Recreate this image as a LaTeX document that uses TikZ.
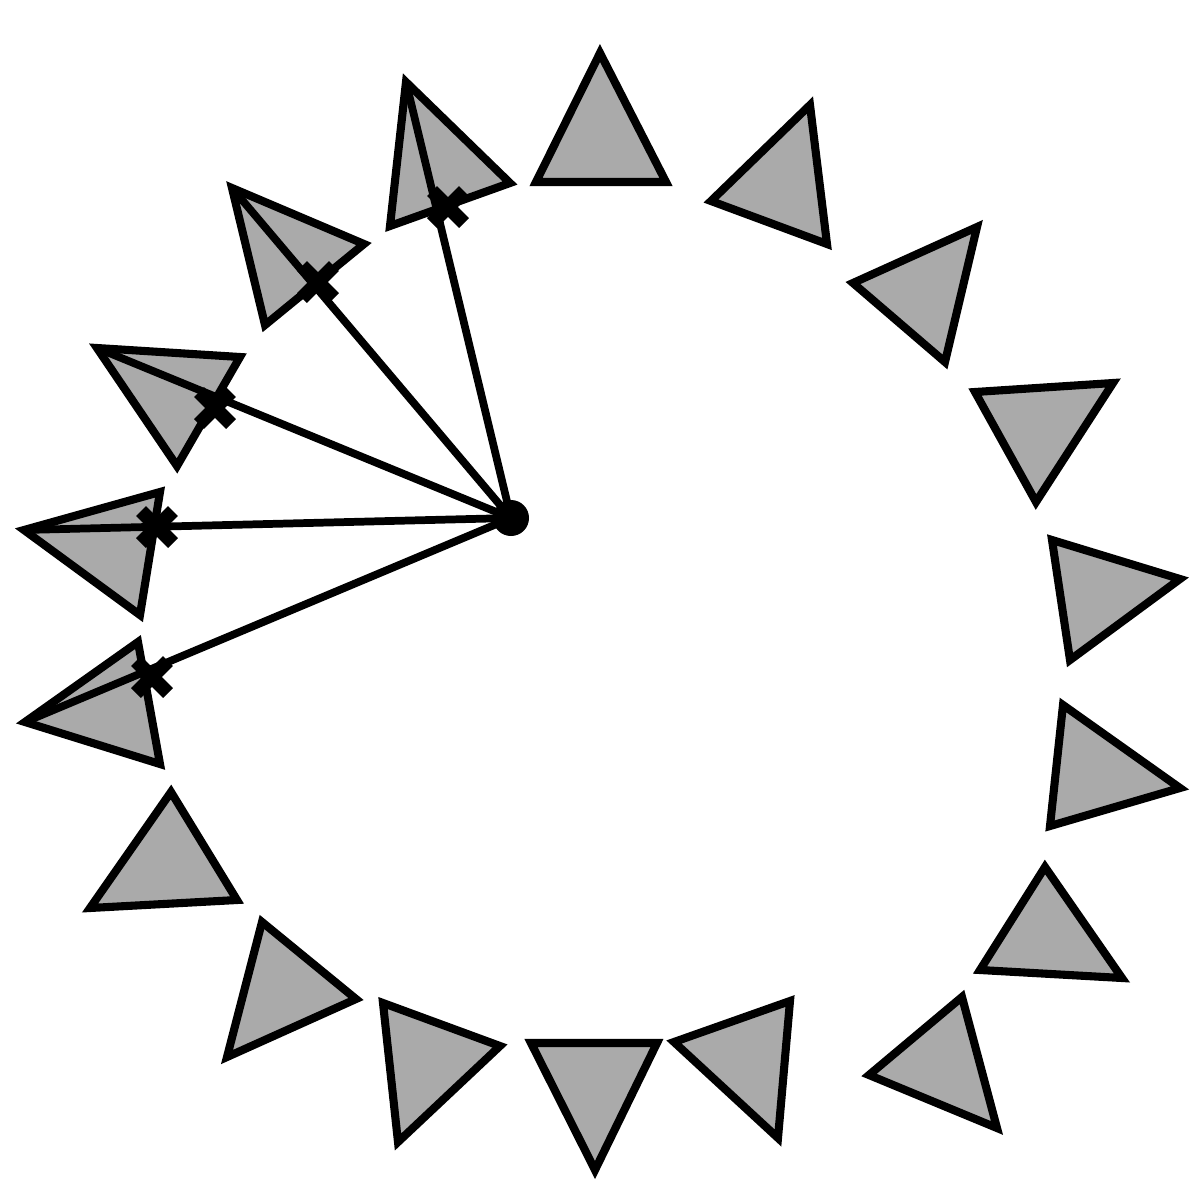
\documentclass[tikz,border=0pt]{standalone}
\usepackage{xcolor}
\usetikzlibrary{calc}
\definecolor{tgray}{RGB}{170,170,170}
\begin{document}
\begin{tikzpicture}[
    x=0.01cm, y=-0.01cm,
    tri/.style={draw, fill=tgray, line width=2.3pt, line join=miter},
    ray/.style={line width=2.2pt},
    cross/.style={line width=4pt},
]
\useasboundingbox (0,0) rectangle (1193,1184);

% Ring of triangles
\foreach \ax/\ay/\bx/\by/\cx/\cy in {
    600/53/536/182/666/182, 810/105/711/201/827/244, 977/227/853/283/945/362,
    975/392/1113/383/1036/502, 1052/540/1180/579/1070/660, 1063/705/1180/788/1050/826,
    1045/867/980/970/1122/978, 962/997/869/1075/997/1128, 674/1042/790/1001/778/1138,
    531/1043/657/1043/595/1170, 383/1003/500/1046/398/1142, 262/922/356/999/227/1057,
    171/792/237/900/90/908}
  \draw[tri] (\ax,\ay) -- (\bx,\by) -- (\cx,\cy) -- cycle;

% Triangles hit by a ray (apex first)
\foreach \n/\ax/\ay/\bx/\by/\cx/\cy in {
    14/25/722/138/642/160/764, 15/24/530/160/492/140/615, 16/97/348/240/357/177/466,
    17/232/188/364/244/265/325, 18/406/82/510/183/390/226}{
  \coordinate (apex\n) at (\ax,\ay);
  \draw[tri] (apex\n) -- (\bx,\by) -- (\cx,\cy) -- cycle;
}

% Centre point
\coordinate (o) at (511,518);

% Rays
\foreach \n in {14,...,18}
  \draw[ray] (o) -- (apex\n);

% Crossing marks
\foreach \n/\mx/\my in {14/152/677, 15/157/527, 16/215/408, 17/318/282, 18/448/207}{
  \coordinate (hit\n) at (\mx,\my);
  \draw[cross] ($(hit\n)+(-16,-16)$) -- ($(hit\n)+(16,16)$)
               ($(hit\n)+(-16,16)$) -- ($(hit\n)+(16,-16)$);
}
\fill (o) circle[radius=0.18cm];

\end{tikzpicture}
\end{document}
